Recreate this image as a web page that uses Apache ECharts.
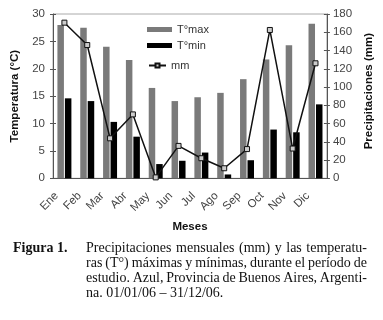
<!DOCTYPE html>
<html><head><meta charset="utf-8">
<script src="https://cdn.jsdelivr.net/npm/echarts@6.0.0/dist/echarts.min.js"></script>
<style>html,body{margin:0;padding:0;background:#fff}#c{width:383px;height:320px}</style>
</head><body><div id="c"></div>
<script>
const months = ['Ene','Feb','Mar','Abr','May','Jun','Jul','Ago','Sep','Oct','Nov','Dic'];
const tMax = [28.0,27.5,24.0,21.6,16.5,14.1,14.8,15.6,18.1,21.7,24.3,28.2];
const tMin = [14.6,14.1,10.3,7.6,2.6,3.2,4.7,0.7,3.3,8.9,8.4,13.5];
const mm = [170.5,146,43.8,70,1,35.5,22,11,32,162.5,32.6,126];
const tempAxis = {min:0, max:30, interval:5};
const precAxis = {min:0, max:180, interval:20};
const captionHead = 'Figura 1.';
const captionLines = [
  'Precipitaciones mensuales (mm) y las temperatu-',
  'ras (T°) máximas y mínimas, durante el período de',
  'estudio. Azul, Provincia de Buenos Aires, Argenti-',
  'na. 01/01/06 – 31/12/06.'
];

const SANS = "'Liberation Sans', Arial, sans-serif";
const SERIF = "'Liberation Serif', 'Times New Roman', serif";
const axisCol = '#555';
const labelCol = '#444';

function captionElements() {
  const els = [];
  const font = "14px " + SERIF;
  const ctx = document.createElement('canvas').getContext('2d');
  ctx.font = font;
  const x0 = 86, width = 281, y0 = 248, lh = 15;
  els.push({type:'text', x:13, y:y0, style:{text:captionHead, font:"bold 14px " + SERIF, fill:'#111', align:'left', verticalAlign:'middle'}});
  captionLines.forEach((line, li) => {
    const justify = li < captionLines.length - 1;
    const words = line.split(' ');
    const ws = words.map(w => ctx.measureText(w).width);
    const total = ws.reduce((a,b)=>a+b,0);
    const space = justify ? (width - total) / (words.length - 1) : ctx.measureText(' ').width;
    let x = x0;
    words.forEach((w, i) => {
      els.push({type:'text', x:x, y:y0 + li*lh, style:{text:w, font:font, fill:'#111', align:'left', verticalAlign:'middle'}});
      x += ws[i] + space;
    });
  });
  return els;
}

const chart = echarts.init(document.getElementById('c'), null, {renderer:'canvas'});
chart.setOption({
  animation:false,
  backgroundColor:'#fff',
  grid:{left:53, right:53, top:14, bottom:141.7, show:true, borderColor:'#aaa', borderWidth:1},
  legend:[
    {data:['T°max','T°min'], orient:'vertical', left:142, top:19, itemWidth:25, itemHeight:5, itemGap:5, icon:'rect',
     selectedMode:false, textStyle:{fontSize:11, color:'#333', fontFamily:SANS}},
    {data:['mm'], orient:'vertical', left:143, top:55, itemWidth:17, itemHeight:5,
     selectedMode:false, textStyle:{fontSize:11, color:'#333', fontFamily:SANS}}
  ],
  xAxis:[
    {type:'category', data:months, position:'bottom',
     axisLine:{lineStyle:{color:axisCol, width:1}},
     axisTick:{length:4, lineStyle:{color:axisCol}},
     axisLabel:{rotate:45, fontSize:11.5, color:labelCol, fontFamily:SANS, margin:8, padding:[0,11,0,0]},
     name:'Meses', nameLocation:'middle', nameGap:42,
     nameTextStyle:{fontWeight:'bold', fontSize:11.5, color:'#111', fontFamily:SANS}},
    {type:'category', data:months, position:'bottom',
     axisLine:{show:false}, axisTick:{inside:true, length:2, lineStyle:{color:axisCol}}, axisLabel:{show:false}}
  ],
  yAxis:[
    {type:'value', min:tempAxis.min, max:tempAxis.max, interval:tempAxis.interval, position:'left',
     axisLine:{show:true, lineStyle:{color:axisCol}}, axisTick:{show:true, length:3, lineStyle:{color:axisCol}},
     splitLine:{show:false}, axisLabel:{fontSize:11.5, color:labelCol, fontFamily:SANS, margin:8},
     name:'Temperatura (°C)', nameLocation:'middle', nameGap:27, nameRotate:90,
     nameTextStyle:{fontWeight:'bold', fontSize:11.5, color:'#111', fontFamily:SANS}},
    {type:'value', min:precAxis.min, max:precAxis.max, interval:precAxis.interval, position:'right',
     axisLine:{show:true, lineStyle:{color:axisCol}}, axisTick:{show:true, length:3, lineStyle:{color:axisCol}},
     splitLine:{show:false}, axisLabel:{fontSize:11.5, color:labelCol, fontFamily:SANS, margin:6},
     name:'Precipitaciones (mm)', nameLocation:'middle', nameGap:33, nameRotate:90,
     nameTextStyle:{fontWeight:'bold', fontSize:11.5, color:'#111', fontFamily:SANS, padding:[0,0,0,10]}},
    {type:'value', min:tempAxis.min, max:tempAxis.max, interval:tempAxis.interval, position:'left',
     axisLine:{show:false}, axisTick:{show:true, inside:true, length:3, lineStyle:{color:axisCol}},
     splitLine:{show:false}, axisLabel:{show:false}},
    {type:'value', min:precAxis.min, max:precAxis.max, interval:precAxis.interval, position:'right',
     axisLine:{show:false}, axisTick:{show:true, inside:true, length:3, lineStyle:{color:axisCol}},
     splitLine:{show:false}, axisLabel:{show:false}}
  ],
  series:[
    {name:'T°max', type:'bar', data:tMax, yAxisIndex:0, barWidth:6.5, barGap:'15%', itemStyle:{color:'#7a7a7a'}},
    {name:'T°min', type:'bar', data:tMin, yAxisIndex:0, barWidth:6.5, barGap:'15%', itemStyle:{color:'#000'}},
    {name:'mm', type:'line', data:mm, yAxisIndex:1, symbol:'rect', symbolSize:5, z:5,
     itemStyle:{color:'#ccc', borderColor:'#111', borderWidth:1},
     lineStyle:{color:'#111', width:1.5}}
  ],
  graphic:captionElements()
});
</script></body></html>
